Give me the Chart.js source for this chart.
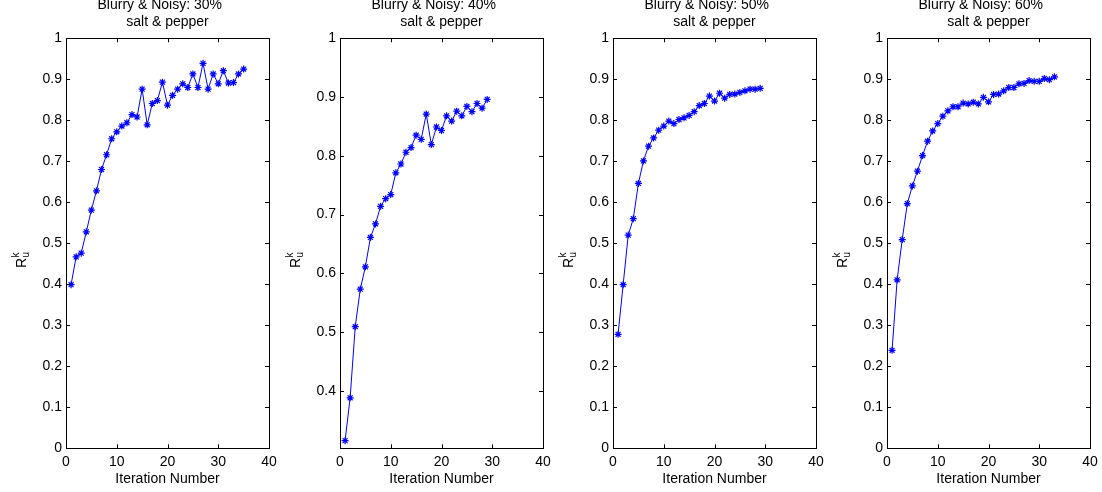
<!DOCTYPE html>
<html>
<head>
<meta charset="utf-8">
<script src="https://cdn.jsdelivr.net/npm/chart.js@4.4.1/dist/chart.umd.min.js"></script>
<style>
  html, body { margin: 0; padding: 0; background: #fff; overflow: hidden; }
  body { width: 1102px; height: 492px; position: relative; }
  canvas { position: absolute; top: 0; }
</style>
</head>
<body>
<canvas id="c30" width="282" height="492" style="left:0px"></canvas>
<canvas id="c40" width="282" height="492" style="left:273.5px"></canvas>
<canvas id="c50" width="282" height="492" style="left:547.3px"></canvas>
<canvas id="c60" width="282" height="492" style="left:821.3px"></canvas>
<script>
// R_u^k per iteration
const noise30 = [0.399, 0.467, 0.476, 0.528, 0.581, 0.628, 0.680, 0.716, 0.755, 0.772,
                 0.786, 0.794, 0.814, 0.808, 0.876, 0.789, 0.841, 0.848, 0.893, 0.837,
                 0.861, 0.876, 0.889, 0.880, 0.913, 0.880, 0.939, 0.876, 0.913, 0.889,
                 0.921, 0.891, 0.892, 0.913, 0.925];
const noise40 = [0.315, 0.388, 0.509, 0.573, 0.611, 0.661, 0.684, 0.714, 0.727, 0.734,
                 0.771, 0.786, 0.806, 0.814, 0.835, 0.828, 0.871, 0.819, 0.849, 0.843,
                 0.868, 0.859, 0.876, 0.868, 0.884, 0.875, 0.889, 0.881, 0.896];
const noise50 = [0.278, 0.399, 0.520, 0.560, 0.646, 0.701, 0.737, 0.757, 0.776, 0.786,
                 0.798, 0.792, 0.802, 0.806, 0.812, 0.821, 0.836, 0.841, 0.859, 0.847,
                 0.866, 0.854, 0.863, 0.864, 0.868, 0.872, 0.876, 0.876, 0.878];
const noise60 = [0.239, 0.411, 0.509, 0.597, 0.640, 0.676, 0.714, 0.749, 0.774, 0.792,
                 0.810, 0.823, 0.833, 0.833, 0.842, 0.840, 0.844, 0.840, 0.856, 0.845,
                 0.863, 0.864, 0.872, 0.880, 0.880, 0.889, 0.890, 0.897, 0.895, 0.895,
                 0.902, 0.899, 0.906];

const titles = ['Blurry & Noisy: 30%', 'Blurry & Noisy: 40%', 'Blurry & Noisy: 50%', 'Blurry & Noisy: 60%'];
const subtitle = 'salt & pepper';
const xTicks = [0, 10, 20, 30, 40];
const yTicksFull = [0, 0.1, 0.2, 0.3, 0.4, 0.5, 0.6, 0.7, 0.8, 0.9, 1];
const yTicks40 = [0.4, 0.5, 0.6, 0.7, 0.8, 0.9, 1];

const FONT = "'Liberation Sans', Arial, Helvetica, sans-serif";

// matlab style box with inward ticks on all four sides
const boxPlugin = {
    id: 'box',
    afterDatasetsDraw(chart) {
        const {ctx, chartArea: a, scales} = chart;
        ctx.save();
        ctx.strokeStyle = '#000';
        ctx.lineWidth = 1;
        ctx.beginPath();
        scales.x.ticks.forEach(t => {
            const px = Math.round(scales.x.getPixelForValue(t.value)) + 0.5;
            ctx.moveTo(px, a.bottom); ctx.lineTo(px, a.bottom - 4);
            ctx.moveTo(px, a.top); ctx.lineTo(px, a.top + 4);
        });
        scales.y.ticks.forEach(t => {
            const py = Math.round(scales.y.getPixelForValue(t.value)) + 0.5;
            ctx.moveTo(a.left, py); ctx.lineTo(a.left + 4, py);
            ctx.moveTo(a.right, py); ctx.lineTo(a.right - 4, py);
        });
        ctx.stroke();
        ctx.strokeRect(Math.round(a.left) + 0.5, Math.round(a.top) + 0.5,
                       Math.round(a.right - a.left), Math.round(a.bottom - a.top));
        ctx.restore();
    }
};

// y label R_u^k, rotated
const yLabelPlugin = {
    id: 'ylabel',
    afterDraw(chart) {
        const ctx = chart.ctx;
        ctx.save();
        ctx.translate(25.5, 268);
        ctx.rotate(-Math.PI / 2);
        ctx.fillStyle = '#000';
        ctx.textAlign = 'left';
        ctx.textBaseline = 'alphabetic';
        ctx.font = '14px ' + FONT;
        ctx.fillText('R', 0, 0);
        const w = ctx.measureText('R').width;
        ctx.font = '10px ' + FONT;
        ctx.fillText('u', w + 0.5, 3);
        ctx.fillText('k', w + 0.5, -7);
        ctx.restore();
    }
};

function makePanel(id, title, values, yMin, yTicks) {
    const points = values.map((v, i) => ({x: i + 1, y: v}));
    new Chart(id, {
        type: 'line',
        data: {
            datasets: [{
                data: points,
                borderColor: '#0000ff',
                backgroundColor: '#0000ff',
                borderWidth: 1,
                pointStyle: 'star',
                pointRadius: 3.5,
                pointBorderWidth: 1.2,
                tension: 0,
                fill: false
            }]
        },
        options: {
            responsive: false,
            animation: false,
            layout: { padding: { top: 0, left: 0, right: 13, bottom: 0 } },
            plugins: {
                legend: { display: false },
                tooltip: { enabled: false },
                title: {
                    display: true,
                    fullSize: false,
                    text: [title + '    ', subtitle],
                    color: '#000',
                    font: { family: FONT, size: 14, weight: 'normal', lineHeight: 1.2 },
                    padding: { top: -3.4, bottom: 8.1 }
                }
            },
            scales: {
                x: {
                    type: 'linear',
                    min: 0,
                    max: 40,
                    afterBuildTicks: s => { s.ticks = xTicks.map(v => ({value: v})); },
                    afterFit: s => { s.height = 43.7; },
                    grid: { display: false, drawTicks: false },
                    border: { display: false },
                    ticks: {
                        color: '#000',
                        padding: 5,
                        maxRotation: 0,
                        font: { family: FONT, size: 14, lineHeight: 1.2 }
                    },
                    title: {
                        display: true,
                        text: 'Iteration Number',
                        color: '#000',
                        padding: { top: 0, bottom: 4.6 },
                        font: { family: FONT, size: 14, lineHeight: 1.2 }
                    }
                },
                y: {
                    type: 'linear',
                    min: yMin,
                    max: 1,
                    afterBuildTicks: s => { s.ticks = yTicks.map(v => ({value: v})); },
                    afterFit: s => { s.width = 66; },
                    grid: { display: false, drawTicks: false },
                    border: { display: false },
                    ticks: {
                        color: '#000',
                        padding: 4,
                        font: { family: FONT, size: 14, lineHeight: 1.2 },
                        callback: v => String(+v.toFixed(1))
                    }
                }
            }
        },
        plugins: [boxPlugin, yLabelPlugin]
    });
}

document.addEventListener('DOMContentLoaded', () => {
    makePanel('c30', titles[0], noise30, 0, yTicksFull);
    makePanel('c40', titles[1], noise40, 0.302, yTicks40);
    makePanel('c50', titles[2], noise50, 0, yTicksFull);
    makePanel('c60', titles[3], noise60, 0, yTicksFull);
});
</script>
</body>
</html>
